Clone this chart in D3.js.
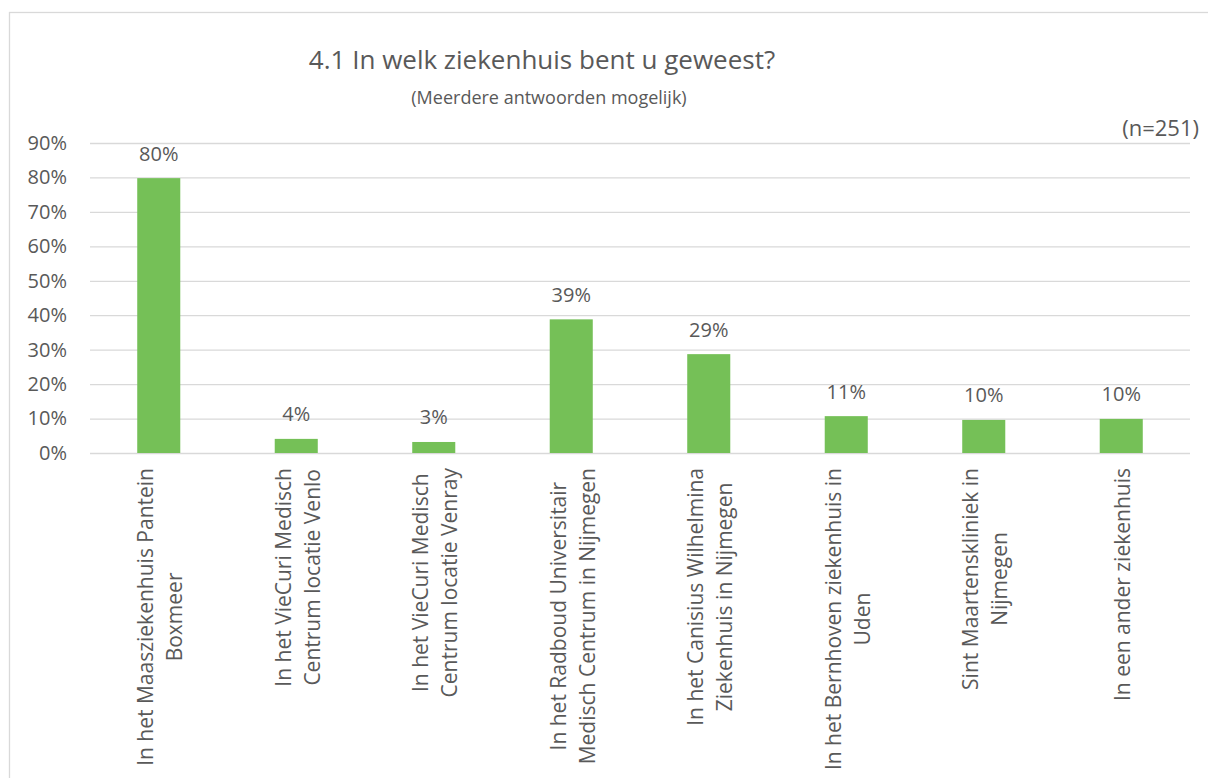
<!DOCTYPE html>
<head>
  <meta charset="utf-8">
  <style>
    body { margin:0; background:#fff; }
    text { font-family:"Open Sans", sans-serif; fill:#595959; }
    .grid line { stroke:#d9d9d9; stroke-width:1.3px; }
    .bar { fill:#75c057; }
    #title { font-size:26px; }
  </style>
</head>

<body>

  <script src="https://cdn.jsdelivr.net/npm/d3@7"></script>

  <script>

    // DATA
    var categories = [
      ["In het Maasziekenhuis Pantein", "Boxmeer"],
      ["In het VieCuri Medisch", "Centrum locatie Venlo"],
      ["In het VieCuri Medisch", "Centrum locatie Venray"],
      ["In het Radboud Universitair", "Medisch Centrum in Nijmegen"],
      ["In het Canisius Wilhelmina", "Ziekenhuis in Nijmegen"],
      ["In het Bernhoven ziekenhuis in", "Uden"],
      ["Sint Maartenskliniek in", "Nijmegen"],
      ["In een ander ziekenhuis"]
    ];
    var values = [0.798, 0.041, 0.032, 0.388, 0.287, 0.107, 0.096, 0.099];
    var yTicks = [0, 0.1, 0.2, 0.3, 0.4, 0.5, 0.6, 0.7, 0.8, 0.9];

    var title = "4.1 In welk ziekenhuis bent u geweest?",
        subtitle = "(Meerdere antwoorden mogelijk)",
        note = "(n=251)";

    // DIMENSIONS
    var width = 1208, height = 778;
    var plot = { left: 90, right: 1190, top: 143, bottom: 453 };

    var svg = d3.select("body").append("svg")
      .attr("width", width)
      .attr("height", height);

    // chart border (runs off the right and bottom edges)
    svg.append("rect")
      .attr("x", 9.5).attr("y", 12.5)
      .attr("width", width).attr("height", height)
      .attr("fill", "none")
      .attr("stroke", "#d9d9d9")
      .attr("stroke-width", 1.3);

    // SCALES
    var x = d3.scaleBand()
      .domain(d3.range(categories.length))
      .range([plot.left, plot.right])
      .paddingInner(0.687)
      .paddingOuter(0.3435);

    var y = d3.scaleLinear()
      .domain([0, 0.9])
      .range([plot.bottom, plot.top]);

    var pct = d3.format(".0%");

    // TITLES
    svg.append("text")
      .attr("id", "title")
      .attr("x", 542).attr("y", 69)
      .attr("text-anchor", "middle")
      .text(title);

    svg.append("text")
      .attr("x", 549).attr("y", 104)
      .attr("text-anchor", "middle")
      .style("font-size", "18px")
      .text(subtitle);

    svg.append("text")
      .attr("x", 1199).attr("y", 136)
      .attr("text-anchor", "end")
      .style("font-size", "22px")
      .text(note);

    // GRIDLINES + Y AXIS
    var yAxis = d3.axisLeft(y)
      .tickValues(yTicks)
      .tickFormat(pct)
      .tickSize(-(plot.right - plot.left))
      .tickPadding(23);

    var gy = svg.append("g")
      .attr("class", "grid")
      .attr("transform", "translate(" + plot.left + ",0)")
      .call(yAxis);
    gy.select(".domain").remove();
    gy.selectAll("text")
      .style("font-size", "20px")
      .attr("fill", "#595959");

    // BARS
    svg.selectAll("rect.bar")
      .data(values)
      .enter().append("rect")
        .attr("class", "bar")
        .attr("x", (d, i) => x(i))
        .attr("width", x.bandwidth())
        .attr("y", d => y(d))
        .attr("height", d => y(0) - y(d));

    // VALUE LABELS
    svg.selectAll("text.val")
      .data(values)
      .enter().append("text")
        .attr("class", "val")
        .attr("x", (d, i) => x(i) + x.bandwidth() / 2)
        .attr("y", d => y(d) - 17.5)
        .attr("text-anchor", "middle")
        .style("font-size", "20px")
        .text(d => pct(d));

    // CATEGORY LABELS (rotated, lines centred on the longest one)
    var lineGap = 29;
    var labels = svg.selectAll("g.cat")
      .data(categories)
      .enter().append("g")
        .attr("class", "cat")
        .attr("transform", (d, i) => "translate(" + (x(i) + x.bandwidth() / 2) + "," + plot.bottom + ") rotate(-90)");

    labels.each(function(lines) {
      var g = d3.select(this);
      var t = g.append("text")
        .attr("text-anchor", "middle")
        .style("font-size", "21px");
      var n = lines.length;
      lines.forEach(function(line, k) {
        t.append("tspan")
          .attr("y", 9 + (k - (n - 1) / 2) * lineGap)
          .text(line);
      });
      var maxLen = d3.max(t.selectAll("tspan").nodes(), nd => nd.getComputedTextLength());
      t.selectAll("tspan").attr("x", -(15 + maxLen / 2));
    });

  </script>
</body>
